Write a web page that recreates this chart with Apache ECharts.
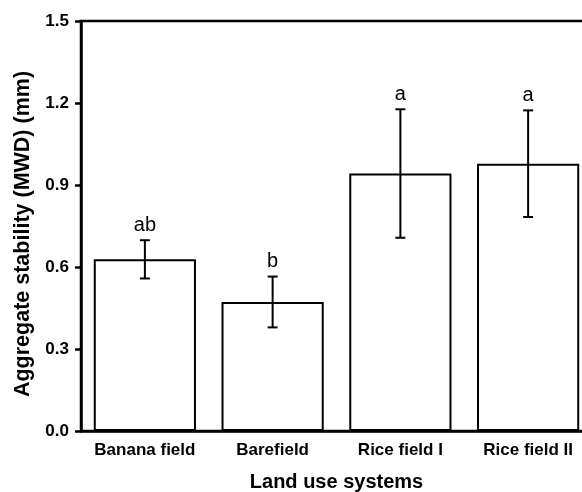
<!DOCTYPE html>
<html><head><meta charset="utf-8">
<script src="https://cdn.jsdelivr.net/npm/echarts@6/dist/echarts.min.js"></script>
<style>html,body{margin:0;padding:0;background:#fff;overflow:hidden;width:582px;height:492px}#c{width:610px;height:492px}</style>
</head><body><div id="c"></div>
<script>
var categories = ['Banana field', 'Barefield', 'Rice field I', 'Rice field II'];
var means = [0.628, 0.472, 0.942, 0.978];
var errors = [0.070, 0.093, 0.235, 0.195];
var letters = ['ab', 'b', 'a', 'a'];
var yTicks = [0.0, 0.3, 0.6, 0.9, 1.2, 1.5];

var FONT = '"Liberation Sans", Arial, sans-serif';
var chart = echarts.init(document.getElementById('c'));
var errData = categories.map(function (c, i) { return [i, means[i], errors[i]]; });
chart.setOption({
  animation: false,
  backgroundColor: '#fff',
  grid: { left: 81, right: 18, top: 21, bottom: 61, outerBoundsMode: 'none', containLabel: false,
    show: true, borderColor: '#000', borderWidth: 2.5, backgroundColor: 'transparent' },
  graphic: [{
    type: 'text', x: 12, y: 234, rotation: Math.PI / 2,
    style: { text: 'Aggregate stability (MWD) (mm)', textAlign: 'center', textVerticalAlign: 'top',
      fill: '#000', font: 'bold 21.5px ' + FONT }
  }],
  xAxis: {
    type: 'category', data: categories,
    axisLine: { lineStyle: { color: '#000', width: 2.5 } },
    axisTick: { show: false },
    axisLabel: { color: '#000', fontFamily: FONT, fontWeight: 'bold', fontSize: 17, margin: 11, interval: 0 },
    name: 'Land use systems', nameLocation: 'middle', nameGap: 41,
    nameTextStyle: { color: '#000', fontFamily: FONT, fontWeight: 'bold', fontSize: 20 }
  },
  yAxis: {
    type: 'value', min: yTicks[0], max: yTicks[yTicks.length - 1], interval: 0.3,
    axisLine: { show: true, lineStyle: { color: '#000', width: 2.5 } },
    axisTick: { show: true, length: 6, lineStyle: { color: '#000', width: 2.5 } },
    splitLine: { show: false },
    axisLabel: { color: '#000', fontFamily: FONT, fontWeight: 'bold', fontSize: 17, margin: 12,
      formatter: function (v) { return v.toFixed(1); } }
  },
  series: [{
    type: 'bar', data: means, barCategoryGap: '20%',
    itemStyle: { color: '#fff', borderColor: '#000', borderWidth: 2 }
  }, {
    type: 'custom', data: errData, z: 10,
    renderItem: function (params, api) {
      var x = api.value(0), m = api.value(1), e = api.value(2);
      var top = api.coord([x, m + e]), bot = api.coord([x, m - e]);
      var cw = 5;
      var st = { stroke: '#000', lineWidth: 2 };
      return { type: 'group', children: [
        { type: 'line', shape: { x1: top[0], y1: top[1], x2: bot[0], y2: bot[1] }, style: st },
        { type: 'line', shape: { x1: top[0] - cw, y1: top[1], x2: top[0] + cw, y2: top[1] }, style: st },
        { type: 'line', shape: { x1: bot[0] - cw, y1: bot[1], x2: bot[0] + cw, y2: bot[1] }, style: st },
        { type: 'text', style: { text: letters[params.dataIndex], x: top[0], y: top[1] - 5, textAlign: 'center', textVerticalAlign: 'bottom',
          fill: '#000', font: '20px ' + FONT } }
      ] };
    }
  }]
});
</script></body></html>
